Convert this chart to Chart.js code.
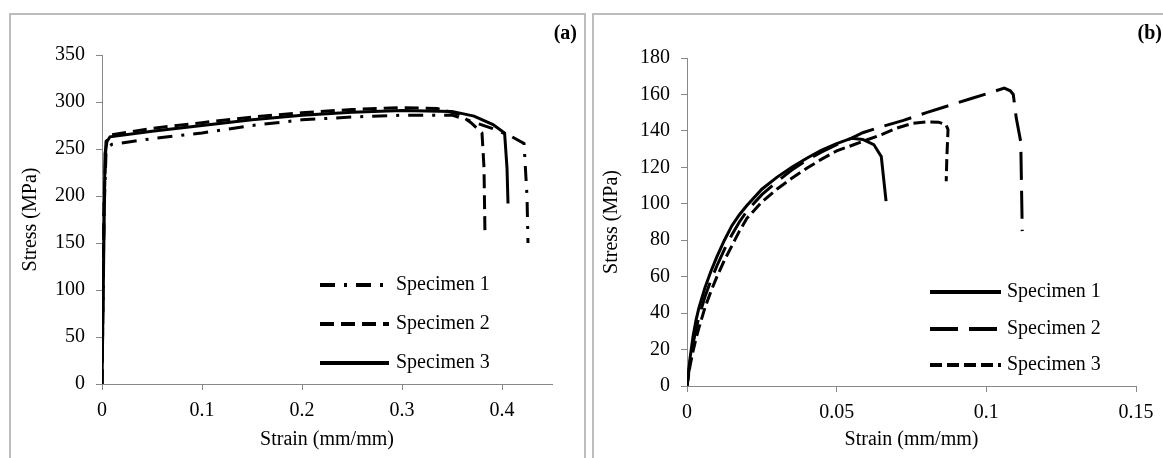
<!DOCTYPE html>
<html>
<head>
<meta charset="utf-8">
<script src="https://cdn.jsdelivr.net/npm/chart.js@4.4.0/dist/chart.umd.min.js"></script>
<style>
  body { margin: 0; background: #fff; width: 1163px; height: 458px; overflow: hidden; position: relative; font-family: "Liberation Serif", serif; }
  .panel { position: absolute; top: 13px; height: 470px; border: 2px solid #bdbdbd; box-sizing: border-box; }
  #panelA { left: 9px; width: 577px; }
  #panelB { left: 592px; width: 600px; }
  .tag { position: absolute; top: 22px; font-weight: bold; font-size: 20px; line-height: 20px; color: #000; }
  canvas { position: absolute; top: 0; }
</style>
</head>
<body>
<div class="panel" id="panelA"></div>
<div class="panel" id="panelB"></div>
<canvas id="chartA" width="585" height="458" style="left:0"></canvas>
<canvas id="chartB" width="578" height="458" style="left:585px"></canvas>
<div class="tag" style="right:586px">(a)</div>
<div class="tag" style="right:1px">(b)</div>
<script>
// (a) stress-strain, three specimens
const a1Strain = [0, 0.002, 0.004, 0.006, 0.01, 0.03, 0.05, 0.1, 0.15, 0.2, 0.25, 0.3, 0.35, 0.365, 0.39, 0.41, 0.422, 0.425, 0.426];
const a1Stress = [0, 180, 245, 252, 255, 258, 261, 267, 275, 281, 284, 286, 286, 281, 272, 263, 256, 200, 150];
const a2Strain = [0, 0.002, 0.004, 0.009, 0.05, 0.1, 0.15, 0.2, 0.25, 0.3, 0.335, 0.357, 0.369, 0.38, 0.382, 0.383];
const a2Stress = [0, 190, 258, 265, 272, 278, 284, 288.6, 292, 294, 293, 287, 278, 267, 230, 157];
const a3Strain = [0, 0.002, 0.003, 0.005, 0.008, 0.05, 0.1, 0.15, 0.2, 0.25, 0.3, 0.35, 0.372, 0.391, 0.4026, 0.405, 0.406];
const a3Stress = [0, 160, 245, 258, 263, 269, 275, 281, 286, 289, 291, 290, 285, 276, 267, 230, 192];

// (b) stress-strain, three specimens
const b1Strain = [0, 0.001, 0.002, 0.003, 0.004, 0.006, 0.008, 0.01, 0.0125, 0.015, 0.0175, 0.02, 0.025, 0.03, 0.035, 0.04, 0.045, 0.05, 0.055, 0.0587, 0.0624, 0.0649, 0.0665];
const b1Stress = [0, 15, 27, 36, 43, 54, 63, 71, 80, 88, 94, 99, 108, 114.5, 120, 125, 129.5, 133, 136, 135.3, 132.5, 126, 101.5];
const b2Strain = [0, 0.001, 0.002, 0.003, 0.004, 0.006, 0.008, 0.01, 0.0125, 0.015, 0.0175, 0.02, 0.025, 0.03, 0.035, 0.04, 0.045, 0.05, 0.055, 0.0587, 0.065, 0.0723, 0.08, 0.0885, 0.095, 0.1, 0.106, 0.108, 0.109, 0.11, 0.1115, 0.112];
const b2Stress = [0, 13, 23, 31, 38, 49, 58, 66, 75, 83, 90, 96, 105, 112, 118.5, 124, 128.5, 132.5, 136, 139, 142.3, 145.8, 150, 154.4, 157.8, 160.3, 163.5, 162, 160, 147, 134, 85];
const b3Strain = [0, 0.001, 0.002, 0.003, 0.004, 0.006, 0.008, 0.01, 0.0125, 0.015, 0.0175, 0.02, 0.025, 0.03, 0.035, 0.04, 0.045, 0.05, 0.055, 0.06, 0.065, 0.07, 0.075, 0.08, 0.084, 0.0865, 0.0872, 0.0868, 0.0866];
const b3Stress = [0, 11, 19, 26, 32, 43, 52, 60, 69, 77, 85, 92, 101, 108, 114, 119.5, 124.5, 129, 132, 135, 138, 141.5, 144, 145, 144.8, 143.5, 140.7, 125, 112.4];

const labels = ["Specimen 1", "Specimen 2", "Specimen 3"];

const FONT = "Liberation Serif";
const AXIS = "#888888";

function pts(xs, ys) {
    return xs.map((x, i) => ({ x: x, y: ys[i] }));
}

function line(label, xs, ys, dash) {
    return {
        label: label,
        data: pts(xs, ys),
        showLine: true,
        borderColor: "#000",
        borderWidth: 3,
        borderDash: dash,
        pointRadius: 0,
        tension: 0,
        fill: false
    };
}

// legend drawn inside the plot, like the original
const legendLines = {
    id: "legendLines",
    afterDraw(chart, args, opts) {
        const ctx = chart.ctx;
        ctx.save();
        chart.data.datasets.forEach((ds, i) => {
            const y = opts.rows[i];
            ctx.beginPath();
            ctx.setLineDash(ds.borderDash || []);
            ctx.lineWidth = 4;
            ctx.strokeStyle = "#000";
            ctx.moveTo(opts.x0, y);
            ctx.lineTo(opts.x1, y);
            ctx.stroke();
            ctx.setLineDash([]);
            ctx.fillStyle = "#000";
            ctx.font = '20px "' + FONT + '"';
            ctx.textBaseline = "middle";
            ctx.fillText(ds.label, opts.textX, y);
        });
        ctx.restore();
    }
};

function fmt(v) {
    return String(+Number(v).toFixed(3));
}

function makeChart(id, datasets, xMax, xStep, yMax, yStep, lay) {
    const ctx = document.getElementById(id).getContext("2d");
    return new Chart(ctx, {
        type: "scatter",
        data: { datasets: datasets },
        plugins: [legendLines],
        options: {
            responsive: false,
            animation: false,
            layout: { padding: { left: 0, right: lay.right, top: lay.top, bottom: 0 } },
            plugins: {
                legend: { display: false },
                tooltip: { enabled: false },
                legendLines: lay.legend
            },
            scales: {
                x: {
                    type: "linear",
                    min: 0,
                    max: xMax,
                    afterFit: (s) => { s.height = lay.xH; },
                    ticks: {
                        stepSize: xStep,
                        includeBounds: false,
                        color: "#000",
                        padding: 9,
                        maxRotation: 0,
                        font: { family: FONT, size: 20 },
                        callback: fmt
                    },
                    grid: { drawOnChartArea: false, tickLength: 6, color: AXIS, lineWidth: 1 },
                    border: { color: AXIS, width: 1 },
                    title: {
                        display: true,
                        text: "Strain (mm/mm)",
                        color: "#000",
                        font: { family: FONT, size: 20 },
                        padding: { top: 0, bottom: 6 }
                    }
                },
                y: {
                    type: "linear",
                    min: 0,
                    max: yMax,
                    afterFit: (s) => { s.width = 102; },
                    ticks: {
                        stepSize: yStep,
                        color: "#000",
                        padding: 11,
                        font: { family: FONT, size: 20 },
                        callback: fmt
                    },
                    grid: { drawOnChartArea: false, tickLength: 6, color: AXIS, lineWidth: 1 },
                    border: { color: AXIS, width: 1 },
                    title: {
                        display: true,
                        text: "Stress (MPa)",
                        color: "#000",
                        font: { family: FONT, size: 20 },
                        padding: { top: lay.yTitle, bottom: 0 }
                    }
                }
            }
        }
    });
}

makeChart("chartA", [
    line(labels[0], a1Strain, a1Stress, [15, 9, 3, 9]),
    line(labels[1], a2Strain, a2Stress, [14, 7]),
    line(labels[2], a3Strain, a3Stress, [])
], 0.45, 0.1, 350, 50, {
    right: 33, top: 55, xH: 74, yTitle: 19,
    legend: { x0: 320, x1: 389, textX: 396, rows: [285, 324, 363] }
});

makeChart("chartB", [
    line(labels[0], b1Strain, b1Stress, []),
    line(labels[1], b2Strain, b2Stress, [28, 11]),
    line(labels[2], b3Strain, b3Stress, [12, 5])
], 0.15, 0.05, 180, 20, {
    right: 27, top: 58, xH: 72, yTitle: 15,
    legend: { x0: 345, x1: 416, textX: 422, rows: [292, 329, 365] }
});
</script>
</body>
</html>
